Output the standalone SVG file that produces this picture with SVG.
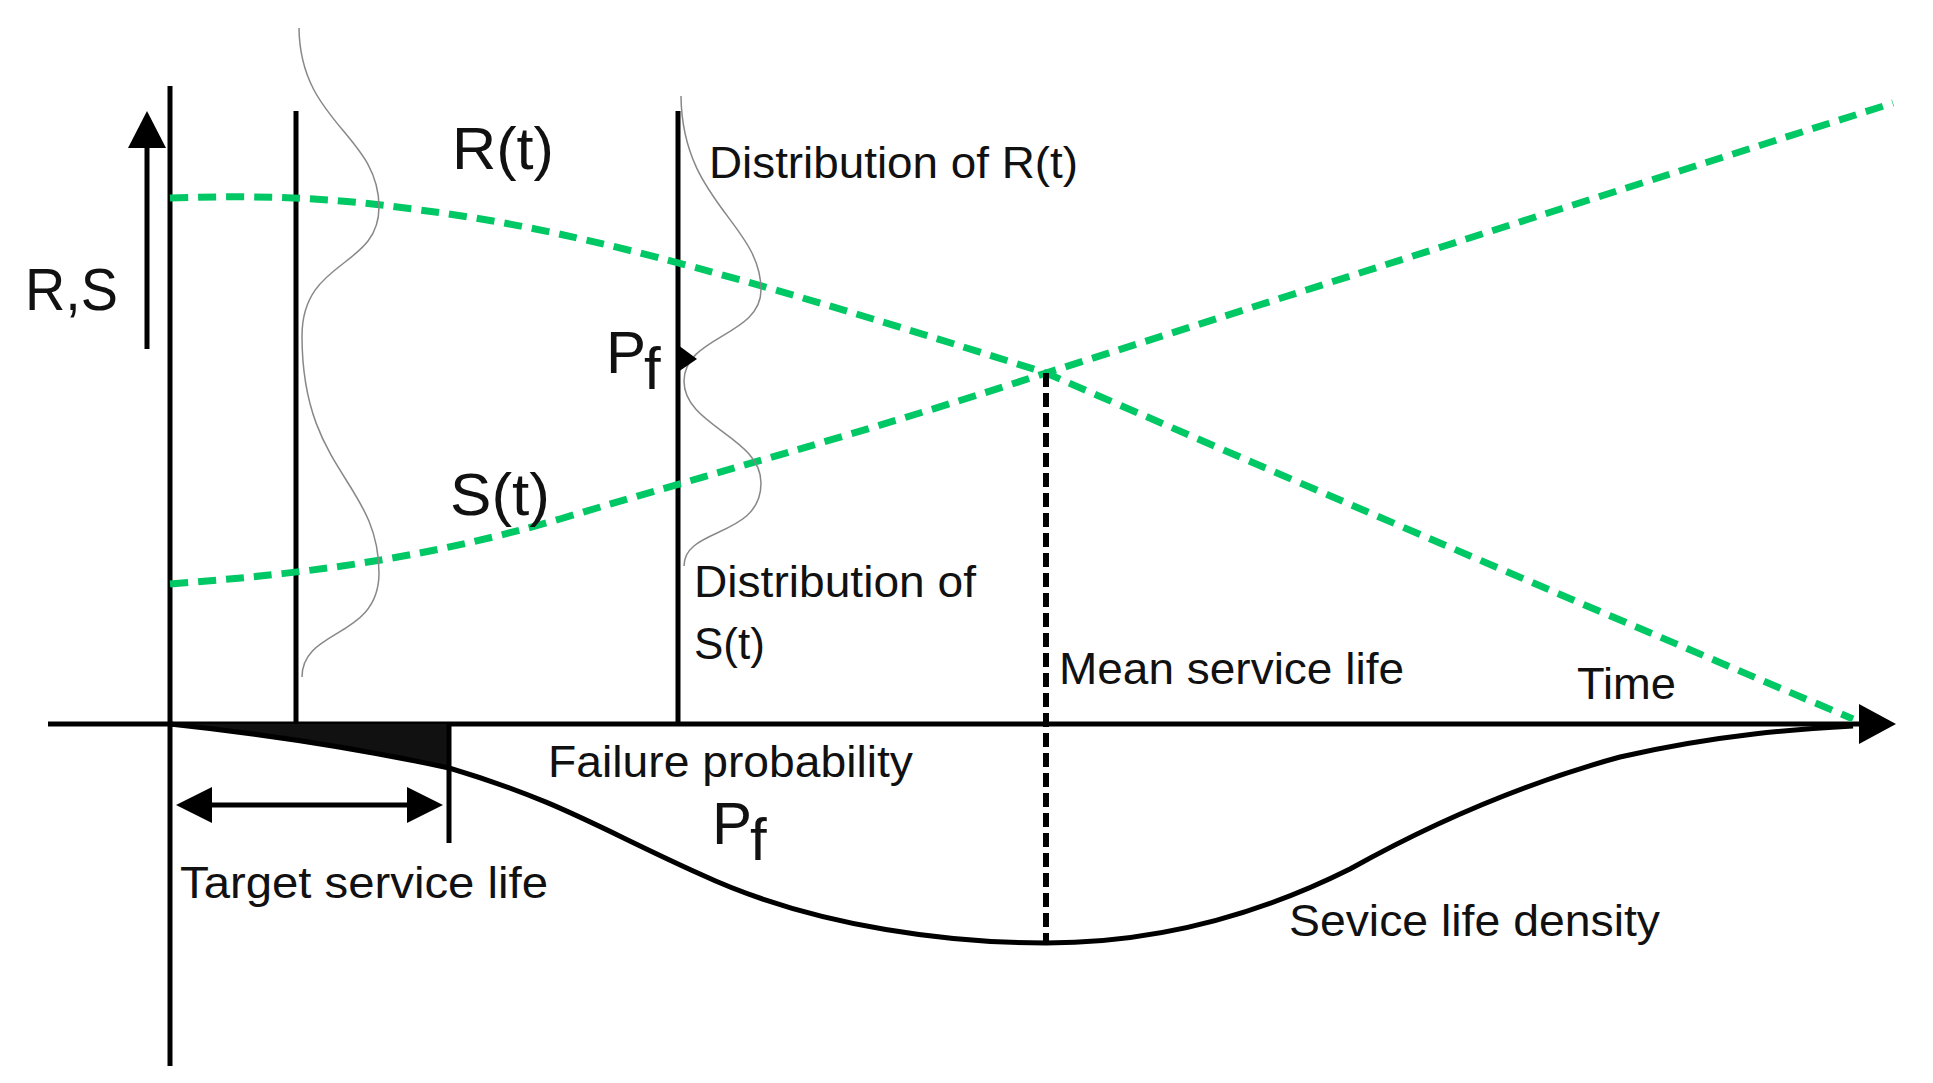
<svg xmlns="http://www.w3.org/2000/svg" width="1933" height="1083" viewBox="0 0 1933 1083">
<style>
text{font-family:"Liberation Sans",Arial,sans-serif;fill:#111}
.big{font-size:60px}
.med{font-size:44px}
.ax{stroke:#000;stroke-width:5;fill:none}
.gr{stroke:#00c864;stroke-width:7;fill:none;stroke-dasharray:18 10}
.thin{stroke:#888;stroke-width:1.5;fill:none}
</style>
<rect width="1933" height="1083" fill="#fff"/>
<g id="connectors">
<line class="ax" x1="170" y1="86" x2="170" y2="1066"/>
<line class="ax" x1="147" y1="349" x2="147" y2="145"/>
<polygon points="128,148 166,148 147,111" fill="#000"/>
<line class="ax" x1="296" y1="111" x2="296" y2="724"/>
<line class="ax" x1="678" y1="111" x2="678" y2="724"/>
<line class="ax" x1="48" y1="724" x2="1862" y2="724"/>
<polygon points="1859,704 1859,744 1896,724" fill="#000"/>
<path class="gr" d="M170,198 C260,195 330,197 420,210 C560,228 700,263 1046,373 Q1400,527 1853,719"/>
<path class="gr" d="M170,584 C300,574 420,560 560,519 C720,471 850,437 1046,373 L1893,103"/>
<line stroke="#000" stroke-width="6" stroke-dasharray="14 6" x1="1046" y1="373" x2="1046" y2="943"/>
<path d="M170,724 Q320,740 449,768 L449,724 Z" fill="#111"/>
<path class="ax" stroke-width="6" d="M170,724 Q320,740 449,768 C560,801 600,829 700,874 C820,930 960,943 1046,943 C1150,943 1250,919 1350,869 C1450,813 1540,779 1620,757 C1720,734 1800,729 1853,726"/>
<line class="ax" x1="449" y1="724" x2="449" y2="843"/>
<line class="ax" x1="195" y1="805" x2="425" y2="805"/>
<polygon points="176,805 212,787 212,823" fill="#000"/>
<polygon points="443,805 407,787 407,823" fill="#000"/>
<path class="thin" d="M299,28 C300,123 379,135 379,207 C379,269 302,258 302,336 C302,471 379,482 379,573 C379,639 302,628 302,677"/>
<path class="thin" d="M681,96 C682,202 761,224 761,290 C761,336 684,336 684,381 C684,426 761,437 761,483 C761,538 684,527 684,566"/>
<polygon points="678,345 678,372 697,359" fill="#000"/>
</g>
<g id="labels">
<text class="big" x="25" y="310" textLength="93" lengthAdjust="spacingAndGlyphs">R,S</text>
<text class="big" x="452" y="169" textLength="102" lengthAdjust="spacingAndGlyphs">R(t)</text>
<text class="big" x="450" y="515" textLength="100" lengthAdjust="spacingAndGlyphs">S(t)</text>
<text class="big" x="606" y="373">P</text><text class="big" x="644" y="389">f</text>
<text class="big" x="712" y="844">P</text><text class="big" x="750" y="860">f</text>
<text class="med" x="709" y="178" textLength="369" lengthAdjust="spacingAndGlyphs">Distribution of R(t)</text>
<text class="med" x="694" y="597" textLength="282" lengthAdjust="spacingAndGlyphs">Distribution of</text>
<text class="med" x="694" y="659">S(t)</text>
<text class="med" x="548" y="777" textLength="365" lengthAdjust="spacingAndGlyphs">Failure probability</text>
<text class="med" x="180" y="898" textLength="368" lengthAdjust="spacingAndGlyphs">Target service life</text>
<text class="med" x="1059" y="684" textLength="345" lengthAdjust="spacingAndGlyphs">Mean service life</text>
<text class="med" x="1577" y="699" textLength="99" lengthAdjust="spacingAndGlyphs">Time</text>
<text class="med" x="1289" y="936" textLength="371" lengthAdjust="spacingAndGlyphs">Sevice life density</text>
</g>
</svg>
